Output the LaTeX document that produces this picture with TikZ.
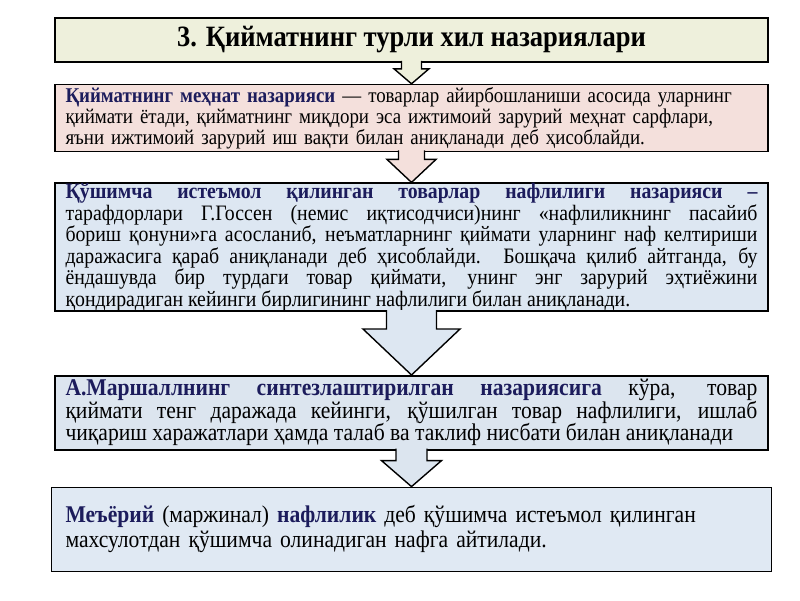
\documentclass[tikz,border=0pt]{standalone}
\usepackage{fontspec}
\setmainfont{Liberation Serif}[FakeStretch=0.9]
\usepackage{xcolor}
\usetikzlibrary{positioning, calc}

\definecolor{titlefill}{HTML}{EEF0DC}
\definecolor{labourfill}{HTML}{F4E0DC}
\definecolor{utilfill}{HTML}{DDE7F2}
\definecolor{synthfill}{HTML}{DCE5EF}
\definecolor{margfill}{HTML}{E0E9F3}
\definecolor{termblue}{HTML}{1C1C5C}

\newcommand{\term}[1]{\textbf{\textcolor{termblue}{#1}}}

\begin{document}
\begin{tikzpicture}[
    x=1pt, y=1pt,
    box/.style={rectangle, draw=black, line width=1.6pt, fill=#1,
                minimum width=713pt, text width=692pt, inner xsep=10pt, inner ysep=0pt,
                align=justify, font=\fontsize{21}{21}\selectfont},
    box/.default={utilfill},
    titlebox/.style={rectangle, draw=black, line width=1.6pt, fill=titlefill,
                     minimum width=713pt, minimum height=44pt, align=center,
                     font=\fontsize{29.5}{30}\selectfont\bfseries},
    barrow/.style={draw=black, line width=1.4pt, fill=#1, line join=miter}
]
\useasboundingbox (0,0) rectangle (800,-600);

% --- Title ---
\node[titlebox] (title) at (411.5,-40) {3. Қийматнинг турли хил назариялари};

% --- Labour theory ---
\node[box=labourfill, minimum height=67pt, align=left, below=21pt of title] (labour)
    {\term{Қийматнинг меҳнат назарияси} — товарлар айирбошланиши асосида уларнинг\\
     қиймати ётади, қийматнинг миқдори эса ижтимоий зарурий меҳнат сарфлари,\\
     яъни ижтимоий зарурий иш вақти билан аниқланади деб ҳисоблайди.};

% --- Utility theory ---
\node[box=utilfill, minimum height=128pt, below=30pt of labour,
      font=\fontsize{22}{20.3}\selectfont] (utility)
    {\term{Қўшимча истеъмол қилинган товарлар нафлилиги назарияси –}\linebreak
     тарафдорлари Г.Госсен (немис иқтисодчиси)нинг «нафлиликнинг пасайиб\linebreak
     бориш қонуни»га асосланиб, неъматларнинг қиймати уларнинг наф келтириши\linebreak
     даражасига қараб аниқланади деб ҳисоблайди. Бошқача қилиб айтганда, бу\linebreak
     ёндашувда бир турдаги товар қиймати, унинг энг зарурий эҳтиёжини\linebreak
     қондирадиган кейинги бирлигининг нафлилиги билан аниқланади.};

% --- Marshall ---
\node[box=synthfill, minimum height=74pt, below=63pt of utility,
      font=\fontsize{24}{22.5}\selectfont] (marshall)
    {\term{А.Маршаллнинг синтезлаштирилган назариясига} кўра, товар\linebreak
     қиймати тенг даражада кейинги, қўшилган товар нафлилиги, ишлаб\linebreak
     чиқариш харажатлари ҳамда талаб ва таклиф нисбати билан аниқланади};

% --- Marginal utility ---
\node[box=margfill, minimum height=84pt, below=36pt of marshall, align=left,
      font=\fontsize{24}{25}\selectfont, inner xsep=14pt] (marginal)
    {\term{Меъёрий} (маржинал) \term{нафлилик} деб қўшимча истеъмол қилинган\\
     махсулотдан қўшимча олинадиган нафга айтилади.};

% --- Block arrows: box -> box ---
\foreach \from/\to/\sw/\hw/\hy/\col in {title/labour/10/17.5/6/titlefill,
        labour/utility/13/24.5/7/labourfill,
        utility/marshall/25/48.5/17/utilfill,
        marshall/marginal/15.5/30/10/synthfill}
  \draw[barrow=\col] ([xshift=-\sw pt, yshift=2pt]\from.south)
      -- ([xshift=-\sw pt, yshift=-\hy pt]\from.south)
      -- ([xshift=-\hw pt, yshift=-\hy pt]\from.south)
      -- (\to.north)
      -- ([xshift=\hw pt, yshift=-\hy pt]\from.south)
      -- ([xshift=\sw pt, yshift=-\hy pt]\from.south)
      -- ([xshift=\sw pt, yshift=2pt]\from.south);

\end{tikzpicture}
\end{document}
